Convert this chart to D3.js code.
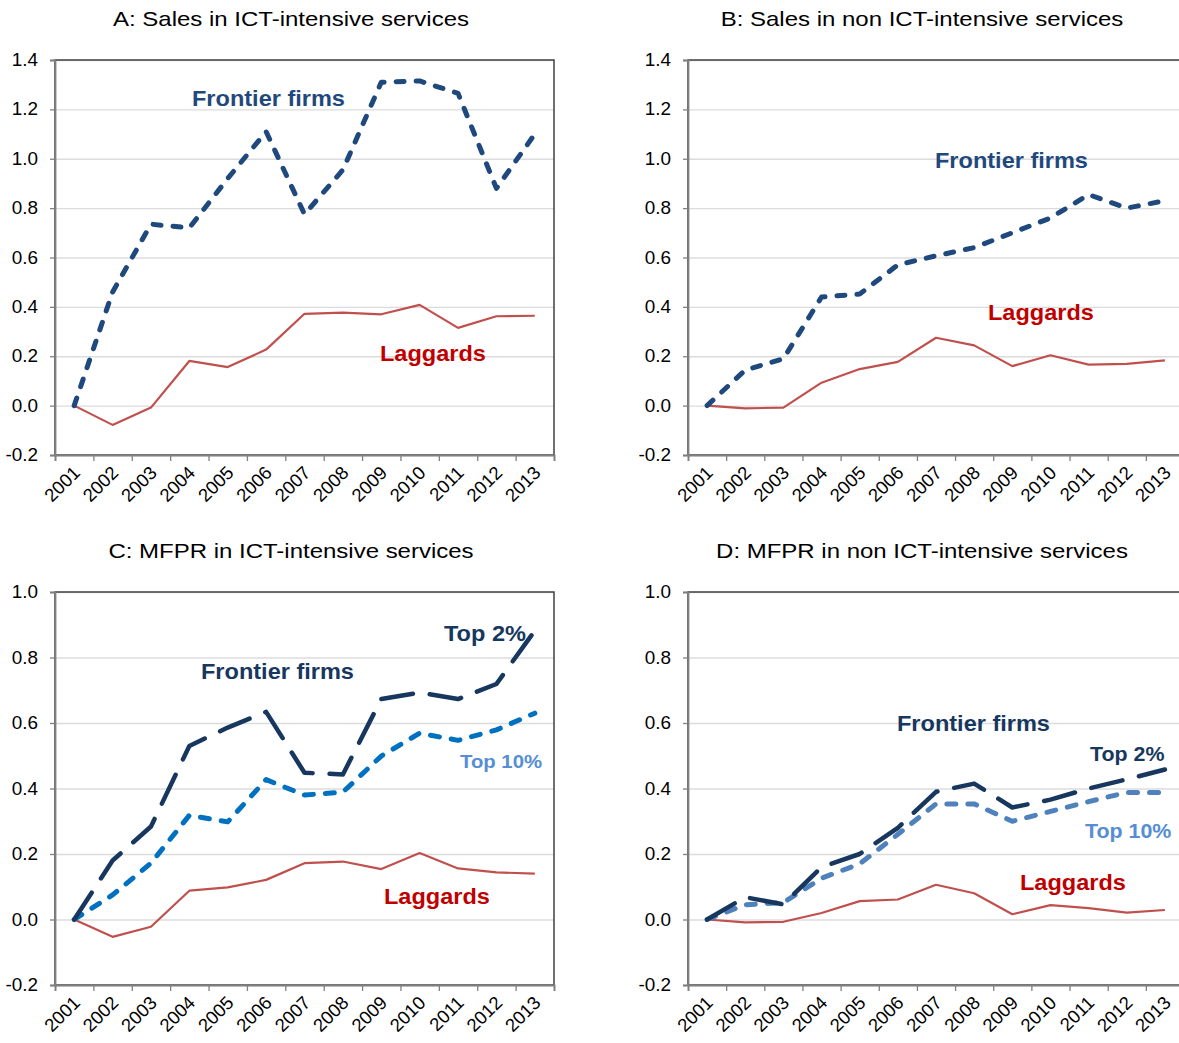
<!DOCTYPE html>
<html>
<head>
<meta charset="utf-8">
<script src="https://cdn.jsdelivr.net/npm/d3@7"></script>
<style>
  body { margin: 0; background: #fff; }
  svg { font-family: "Liberation Sans", Arial, sans-serif; }
</style>
</head>
<body>
<div id="chart"></div>
<script>
// categories
var years = ["2001","2002","2003","2004","2005","2006","2007","2008","2009","2010","2011","2012","2013"];

// A: sales, ICT-intensive services
var salesIctFrontier = [0, 0.46, 0.735, 0.72, 0.92, 1.11, 0.775, 0.955, 1.31, 1.315, 1.265, 0.88, 1.10];
var salesIctLaggards = [0, -0.078, -0.008, 0.181, 0.156, 0.227, 0.372, 0.377, 0.370, 0.408, 0.315, 0.362, 0.364];

// B: sales, non ICT-intensive services
var salesNonFrontier = [0, 0.144, 0.19, 0.44, 0.452, 0.57, 0.607, 0.64, 0.70, 0.76, 0.855, 0.80, 0.83];
var salesNonLaggards = [0, -0.011, -0.008, 0.093, 0.148, 0.177, 0.275, 0.244, 0.16, 0.204, 0.166, 0.169, 0.183];

// C: MFPR, ICT-intensive services
var mfprIctTop2 = [0, 0.18, 0.284, 0.53, 0.586, 0.634, 0.448, 0.443, 0.673, 0.693, 0.673, 0.719, 0.882];
var mfprIctTop10 = [0, 0.075, 0.172, 0.318, 0.298, 0.427, 0.38, 0.389, 0.499, 0.569, 0.547, 0.579, 0.63];
var mfprIctLaggards = [0, -0.053, -0.022, 0.088, 0.098, 0.121, 0.172, 0.177, 0.154, 0.203, 0.156, 0.144, 0.14];

// D: MFPR, non ICT-intensive services
var mfprNonTop2 = [0, 0.068, 0.046, 0.16, 0.2, 0.28, 0.39, 0.415, 0.342, 0.366, 0.40, 0.428, 0.458];
var mfprNonTop10 = [0, 0.045, 0.052, 0.126, 0.17, 0.26, 0.353, 0.353, 0.30, 0.33, 0.36, 0.388, 0.388];
var mfprNonLaggards = [0, -0.009, -0.007, 0.02, 0.056, 0.061, 0.106, 0.08, 0.016, 0.044, 0.035, 0.021, 0.029];

// y tick labels
var salesTicks = [-0.2, 0, 0.2, 0.4, 0.6, 0.8, 1.0, 1.2, 1.4];
var mfprTicks = [-0.2, 0, 0.2, 0.4, 0.6, 0.8, 1.0];

var W = 1179, H = 1043;
var svg = d3.select("#chart").append("svg").attr("width", W).attr("height", H);

var navy = "#1F497D", darkNavy = "#17375E", red = "#C0504D", redText = "#C00000";
var fmt = function(d) { return d3.format(".1f")(d).replace("\u2212", "-"); };

var panels = [
  {title: "A: Sales in ICT-intensive services", x0: 55, x1: 554, y0: 60, y1: 455, ticks: salesTicks, titleX: 291,
   series: [
     {values: salesIctLaggards, color: red, width: 2.2, dash: null},
     {values: salesIctFrontier, color: navy, width: 5, dash: "8,12"}
   ],
   labels: [
     {text: "Frontier firms", x: 137, y: 46, color: navy, size: 22},
     {text: "Laggards", x: 325, y: 301, color: redText, size: 22}
   ]},
  {title: "B: Sales in non ICT-intensive services", x0: 688, x1: 1184, y0: 60, y1: 455, ticks: salesTicks, titleX: 922,
   series: [
     {values: salesNonLaggards, color: red, width: 2.2, dash: null},
     {values: salesNonFrontier, color: navy, width: 5, dash: "8,12"}
   ],
   labels: [
     {text: "Frontier firms", x: 247, y: 108, color: navy, size: 22},
     {text: "Laggards", x: 300, y: 260, color: redText, size: 22}
   ]},
  {title: "C: MFPR in ICT-intensive services", x0: 55, x1: 554, y0: 592, y1: 985, ticks: mfprTicks, titleX: 291,
   series: [
     {values: mfprIctLaggards, color: red, width: 2.2, dash: null},
     {values: mfprIctTop10, color: "#0070C0", width: 5, dash: "9,12"},
     {values: mfprIctTop2, color: darkNavy, width: 4.5, dash: "32,17"}
   ],
   labels: [
     {text: "Top 2%", x: 389, y: 49, color: darkNavy, size: 22},
     {text: "Frontier firms", x: 146, y: 87, color: darkNavy, size: 22},
     {text: "Top 10%", x: 405, y: 176, color: "#558ED5", size: 19},
     {text: "Laggards", x: 329, y: 312, color: redText, size: 22}
   ]},
  {title: "D: MFPR in non ICT-intensive services", x0: 688, x1: 1184, y0: 592, y1: 985, ticks: mfprTicks, titleX: 922,
   series: [
     {values: mfprNonLaggards, color: red, width: 2.2, dash: null},
     {values: mfprNonTop10, color: "#4F81BD", width: 5, dash: "9,12"},
     {values: mfprNonTop2, color: darkNavy, width: 4.5, dash: "32,17"}
   ],
   labels: [
     {text: "Frontier firms", x: 209, y: 139, color: darkNavy, size: 22},
     {text: "Top 2%", x: 402, y: 169, color: darkNavy, size: 20},
     {text: "Top 10%", x: 397, y: 246, color: "#558ED5", size: 20},
     {text: "Laggards", x: 332, y: 298, color: redText, size: 22}
   ]}
];

panels.forEach(function(p) {
  var w = p.x1 - p.x0, h = p.y1 - p.y0;
  var g = svg.append("g").attr("transform", "translate(" + p.x0 + "," + p.y0 + ")");

  var x = d3.scaleBand().domain(years).range([0, w]).padding(0);
  var xEdge = d3.scaleLinear().domain([0, years.length]).range([0, w]);
  var y = d3.scaleLinear().domain([d3.min(p.ticks), d3.max(p.ticks)]).range([h, 0]);

  // title (source text is slightly stretched horizontally)
  svg.append("text")
    .attr("transform", "translate(" + p.titleX + "," + (p.y0 - 34) + ") scale(1.2,1)")
    .attr("text-anchor", "middle").attr("font-size", 20).attr("fill", "#000")
    .text(p.title);

  // gridlines
  g.append("g").call(d3.axisLeft(y).tickValues(p.ticks).tickSize(-w).tickFormat(""))
    .call(function(s) {
      s.select(".domain").remove();
      s.selectAll("line").attr("stroke", "#DCDCDC").attr("stroke-width", 1.3);
    });

  // frame
  g.append("rect").attr("width", w).attr("height", h)
    .attr("fill", "none").attr("stroke", "#404040").attr("stroke-width", 1.5);

  // y axis
  g.append("g").call(d3.axisLeft(y).tickValues(p.ticks).tickSize(5).tickFormat(fmt))
    .call(function(s) {
      s.select(".domain").attr("stroke", "#808080").attr("stroke-width", 1.8);
      s.selectAll("line").attr("stroke", "#808080").attr("stroke-width", 1.3);
      s.selectAll("text").attr("font-size", 17.5).attr("fill", "#000")
        .attr("font-family", "Liberation Sans, Arial, sans-serif")
        .attr("x", 0).attr("transform", "translate(-17,0) scale(1.08,1)");
    });

  // x axis: ticks at category edges
  g.append("g").attr("transform", "translate(0," + h + ")")
    .call(d3.axisBottom(xEdge).tickValues(d3.range(years.length + 1)).tickSize(6).tickFormat(""))
    .call(function(s) {
      s.select(".domain").attr("stroke", "#808080").attr("stroke-width", 1.8);
      s.selectAll("line").attr("stroke", "#808080").attr("stroke-width", 1.3);
    });

  // x axis: category labels
  g.append("g").attr("transform", "translate(0," + h + ")")
    .call(d3.axisBottom(x).tickSize(0).tickPadding(0))
    .call(function(s) {
      s.select(".domain").remove();
      s.selectAll("text")
        .attr("font-size", 18.5).attr("fill", "#000")
        .attr("font-family", "Liberation Sans, Arial, sans-serif")
        .attr("text-anchor", "end").attr("dy", null).attr("y", null)
        .attr("transform", "translate(7,19) rotate(-45)");
    });

  var line = d3.line()
    .x(function(d, i) { return x(years[i]) + x.bandwidth() / 2; })
    .y(function(d) { return y(d); });

  p.series.forEach(function(s) {
    g.append("path").datum(s.values)
      .attr("d", line)
      .attr("fill", "none")
      .attr("stroke", s.color)
      .attr("stroke-width", s.width)
      .attr("stroke-linejoin", "round")
      .attr("stroke-linecap", s.dash ? "round" : "butt")
      .attr("stroke-dasharray", s.dash);
  });

  p.labels.forEach(function(l) {
    g.append("text")
      .attr("transform", "translate(" + l.x + "," + l.y + ") scale(1.07,1)")
      .attr("font-size", l.size).attr("font-weight", "bold").attr("fill", l.color)
      .text(l.text);
  });
});
</script>
</body>
</html>
